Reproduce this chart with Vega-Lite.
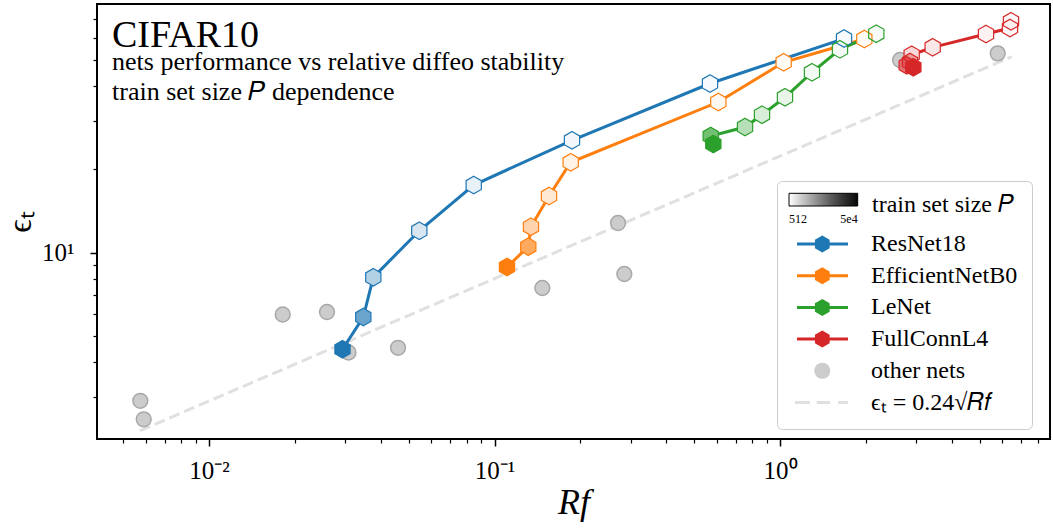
{
  "$schema": "https://vega.github.io/schema/vega-lite/v6.json",
  "width": 953,
  "height": 435,
  "autosize": {"type": "none"},
  "padding": {"left": 97, "top": 4, "right": 3, "bottom": 90},
  "background": "white",
  "config": {
    "view": {"stroke": "black", "strokeWidth": 2},
    "font": "Liberation Serif",
    "axis": {"domain": false, "grid": false, "tickColor": "black", "tickWidth": 1.5, "labelColor": "black", "labelFont": "Liberation Serif", "labelFontSize": 25, "titleFont": "Liberation Serif", "titleFontWeight": "normal", "titleColor": "black"},
    "legend": {"labelFont": "Liberation Serif", "titleFont": "Liberation Serif", "labelColor": "black", "titleColor": "black", "titleFontWeight": "normal"}
  },
  "title": {
    "text": "CIFAR10",
    "subtitle": ["nets performance vs relative diffeo stability", "train set size 𝑃 dependence"],
    "anchor": "start",
    "frame": "group",
    "orient": "top",
    "offset": -101,
    "dx": 15,
    "font": "Liberation Serif",
    "fontSize": 38,
    "fontWeight": "normal",
    "color": "black",
    "subtitleFont": "Liberation Serif",
    "subtitleFontSize": 26,
    "subtitleColor": "black",
    "subtitleLineHeight": 30,
    "subtitlePadding": -6
  },
  "datasets": {
    "fit": [
      {"Rf": 0.005731, "eps": 2.262},
      {"Rf": 6.481, "eps": 51.22}
    ],
    "others": [
      {"Rf": 0.005746, "eps": 2.902},
      {"Rf": 0.005906, "eps": 2.487},
      {"Rf": 0.01812, "eps": 5.962},
      {"Rf": 0.0259, "eps": 6.087},
      {"Rf": 0.0308, "eps": 4.342},
      {"Rf": 0.04592, "eps": 4.515},
      {"Rf": 0.1471, "eps": 7.436},
      {"Rf": 0.2708, "eps": 12.79},
      {"Rf": 0.2849, "eps": 8.357},
      {"Rf": 2.633, "eps": 49.84},
      {"Rf": 5.788, "eps": 52.68}
    ],
    "nets": [
      {"net": "ResNet18", "P": 50000, "Rf": 0.02935, "eps": 4.46},
      {"net": "ResNet18", "P": 32768, "Rf": 0.03471, "eps": 5.838},
      {"net": "ResNet18", "P": 16384, "Rf": 0.03762, "eps": 8.13},
      {"net": "ResNet18", "P": 8192, "Rf": 0.05452, "eps": 11.99},
      {"net": "ResNet18", "P": 4096, "Rf": 0.08456, "eps": 17.56},
      {"net": "ResNet18", "P": 2048, "Rf": 0.1868, "eps": 25.5},
      {"net": "ResNet18", "P": 1024, "Rf": 0.5685, "eps": 40.96},
      {"net": "ResNet18", "P": 512, "Rf": 1.676, "eps": 59.6},
      {"net": "EfficientNetB0", "P": 50000, "Rf": 0.1106, "eps": 8.86},
      {"net": "EfficientNetB0", "P": 32768, "Rf": 0.1313, "eps": 10.5},
      {"net": "EfficientNetB0", "P": 16384, "Rf": 0.1342, "eps": 12.4},
      {"net": "EfficientNetB0", "P": 8192, "Rf": 0.1552, "eps": 16.02},
      {"net": "EfficientNetB0", "P": 4096, "Rf": 0.1849, "eps": 21.23},
      {"net": "EfficientNetB0", "P": 2048, "Rf": 0.608, "eps": 35.1},
      {"net": "EfficientNetB0", "P": 1024, "Rf": 1.03, "eps": 48.88},
      {"net": "EfficientNetB0", "P": 512, "Rf": 1.974, "eps": 59.37},
      {"net": "LeNet", "P": 50000, "Rf": 0.584, "eps": 24.72},
      {"net": "LeNet", "P": 32768, "Rf": 0.5718, "eps": 26.43},
      {"net": "LeNet", "P": 16384, "Rf": 0.7542, "eps": 28.49},
      {"net": "LeNet", "P": 8192, "Rf": 0.8649, "eps": 31.57},
      {"net": "LeNet", "P": 4096, "Rf": 1.041, "eps": 36.5},
      {"net": "LeNet", "P": 2048, "Rf": 1.294, "eps": 44.97},
      {"net": "LeNet", "P": 1024, "Rf": 1.622, "eps": 54.47},
      {"net": "LeNet", "P": 512, "Rf": 2.174, "eps": 62.06},
      {"net": "FullConnL4", "P": 50000, "Rf": 2.931, "eps": 46.88},
      {"net": "FullConnL4", "P": 32768, "Rf": 2.778, "eps": 47.68},
      {"net": "FullConnL4", "P": 16384, "Rf": 2.853, "eps": 49.0},
      {"net": "FullConnL4", "P": 8192, "Rf": 2.892, "eps": 52.08},
      {"net": "FullConnL4", "P": 4096, "Rf": 3.426, "eps": 55.39},
      {"net": "FullConnL4", "P": 2048, "Rf": 5.267, "eps": 61.91},
      {"net": "FullConnL4", "P": 1024, "Rf": 6.391, "eps": 65.07},
      {"net": "FullConnL4", "P": 512, "Rf": 6.443, "eps": 68.81}
    ],
    "legendEntries": [
      {"series": "ResNet18"},
      {"series": "EfficientNetB0"},
      {"series": "LeNet"},
      {"series": "FullConnL4"},
      {"series": "other nets"},
      {"series": "ϵₜ = 0.24√𝑅𝑓"}
    ]
  },
  "layer": [
    {
      "data": {"name": "legendEntries"},
      "transform": [{"filter": "false"}],
      "mark": {"type": "point", "filled": true, "opacity": 1},
      "encoding": {
        "fill": {
          "field": "series", "type": "nominal",
          "scale": {
            "domain": ["ResNet18", "EfficientNetB0", "LeNet", "FullConnL4", "other nets", "ϵₜ = 0.24√𝑅𝑓"],
            "range": ["#1f77b4", "#ff7f0e", "#2ca02c", "#d62728", "#cccccc", "#e0e0e0"]
          },
          "legend": {
            "orient": "none", "legendX": 680, "legendY": 177,
            "title": " ", "titleFontSize": 20, "titlePadding": 17,
            "padding": 14, "symbolSize": 576, "symbolStrokeWidth": 0,
            "labelFontSize": 24, "labelOffset": 56, "rowPadding": 7.7,
            "strokeColor": "#cccccc", "cornerRadius": 5, "labelLimit": 400
          }
        },
        "shape": {
          "field": "series", "type": "nominal",
          "scale": {
            "domain": ["ResNet18", "EfficientNetB0", "LeNet", "FullConnL4", "other nets", "ϵₜ = 0.24√𝑅𝑓"],
            "range": [
              "M-0.5,-0.125H3.75V0.125H-0.5ZM1.608,-0.708L2.221,-0.354L2.221,0.354L1.608,0.708L0.995,0.354L0.995,-0.354Z",
              "M-0.5,-0.125H3.75V0.125H-0.5ZM1.608,-0.708L2.221,-0.354L2.221,0.354L1.608,0.708L0.995,0.354L0.995,-0.354Z",
              "M-0.5,-0.125H3.75V0.125H-0.5ZM1.608,-0.708L2.221,-0.354L2.221,0.354L1.608,0.708L0.995,0.354L0.995,-0.354Z",
              "M-0.5,-0.125H3.75V0.125H-0.5ZM1.608,-0.708L2.221,-0.354L2.221,0.354L1.608,0.708L0.995,0.354L0.995,-0.354Z",
              "M0.941,0A0.667,0.667,0,1,1,2.275,0A0.667,0.667,0,1,1,0.941,0Z",
              "M-0.667,-0.125H0.583V0.125H-0.667ZM1.142,-0.125H2.25V0.125H1.142ZM2.917,-0.125H3.75V0.125H2.917Z"
            ]
          },
          "legend": {
            "orient": "none", "legendX": 680, "legendY": 177,
            "title": " ", "titleFontSize": 20, "titlePadding": 17,
            "padding": 14, "symbolSize": 576, "symbolStrokeWidth": 0,
            "labelFontSize": 24, "labelOffset": 56, "rowPadding": 7.7,
            "strokeColor": "#cccccc", "cornerRadius": 5, "labelLimit": 400
          }
        }
      }
    },
    {
      "data": {"name": "nets"},
      "transform": [{"filter": "false"}],
      "mark": {"type": "point", "filled": true, "opacity": 1},
      "encoding": {
        "color": {
          "field": "P", "type": "quantitative",
          "scale": {"type": "log", "domain": [512, 50000], "range": ["#ffffff", "#000000"]},
          "legend": {
            "orient": "none", "legendX": 692, "legendY": 189.3,
            "direction": "horizontal", "gradientLength": 68.7, "gradientThickness": 12.7,
            "gradientStrokeColor": "black", "gradientStrokeWidth": 1,
            "values": [512, 50000],
            "labelExpr": "datum.value < 1000 ? '512' : '5e4'",
            "labelFontSize": 12, "labelAlign": "center", "labelOffset": 8,
            "title": "train set size 𝑃", "titleOrient": "right", "titleFontSize": 24,
            "titlePadding": 14, "titleAnchor": "start", "titleBaseline": "top", "titleAngle": 0
          }
        }
      }
    },
    {
      "data": {"name": "fit"},
      "mark": {"type": "line", "stroke": "#e0e0e0", "strokeWidth": 3, "strokeDash": [11, 5]},
      "encoding": {
        "x": {
          "field": "Rf", "type": "quantitative",
          "scale": {"type": "log", "domain": [0.004052, 8.825], "nice": false},
          "axis": {
            "orient": "bottom", "values": [0.01, 0.1, 1],
            "labelExpr": "datum.value < 0.05 ? '10⁻²' : datum.value < 0.5 ? '10⁻¹' : '10⁰'",
            "tickSize": 7, "labelPadding": 12, "labelFlush": false,
            "title": "Rf", "titleFontSize": 36, "titleFontStyle": "italic", "titlePadding": 2
          }
        },
        "y": {
          "field": "eps", "type": "quantitative",
          "scale": {"type": "log", "domain": [2.11, 79.52], "nice": false},
          "axis": {
            "orient": "left", "values": [10], "labelExpr": "'10¹'",
            "tickSize": 7, "labelPadding": 16, "labelFlush": false,
            "title": "ϵₜ", "titleFontSize": 33, "titlePadding": 4
          }
        }
      }
    },
    {
      "data": {"name": "others"},
      "mark": {"type": "point", "shape": "circle", "filled": true, "size": 220, "fill": "#cccccc", "stroke": "#a8a8a8", "strokeWidth": 1.5, "opacity": 1},
      "encoding": {
        "x": {
          "field": "Rf", "type": "quantitative",
          "scale": {"type": "log", "domain": [0.004052, 8.825], "nice": false},
          "axis": {
            "orient": "bottom",
            "values": [0.005, 0.006, 0.007, 0.008, 0.009, 0.02, 0.03, 0.04, 0.05, 0.06, 0.07, 0.08, 0.09, 0.2, 0.3, 0.4, 0.5, 0.6, 0.7, 0.8, 0.9, 2, 3, 4, 5, 6, 7, 8],
            "labels": false, "tickSize": 4, "tickWidth": 1.2, "title": null
          }
        },
        "y": {
          "field": "eps", "type": "quantitative",
          "scale": {"type": "log", "domain": [2.11, 79.52], "nice": false},
          "axis": {
            "orient": "left",
            "values": [3, 4, 5, 6, 7, 8, 9, 20, 30, 40, 50, 60, 70],
            "labels": false, "tickSize": 4, "tickWidth": 1.2, "title": null
          }
        }
      }
    },
    {
      "data": {"name": "nets"},
      "mark": {"type": "line", "strokeWidth": 3},
      "encoding": {
        "x": {"field": "Rf", "type": "quantitative", "scale": {"type": "log", "domain": [0.004052, 8.825], "nice": false}, "axis": null},
        "y": {"field": "eps", "type": "quantitative", "scale": {"type": "log", "domain": [2.11, 79.52], "nice": false}, "axis": null},
        "stroke": {
          "field": "net", "type": "nominal",
          "scale": {"domain": ["ResNet18", "EfficientNetB0", "LeNet", "FullConnL4"], "range": ["#1f77b4", "#ff7f0e", "#2ca02c", "#d62728"]},
          "legend": null
        },
        "order": {"field": "P", "type": "quantitative"}
      }
    },
    {
      "data": {"name": "nets"},
      "mark": {"type": "point", "shape": "M0,-1L0.866,-0.5L0.866,0.5L0,1L-0.866,0.5L-0.866,-0.5Z", "size": 310, "filled": true, "fill": "white", "strokeWidth": 0, "opacity": 1},
      "encoding": {
        "x": {"field": "Rf", "type": "quantitative", "scale": {"type": "log", "domain": [0.004052, 8.825], "nice": false}, "axis": null},
        "y": {"field": "eps", "type": "quantitative", "scale": {"type": "log", "domain": [2.11, 79.52], "nice": false}, "axis": null}
      }
    },
    {
      "data": {"name": "nets"},
      "mark": {"type": "point", "shape": "M0,-1L0.866,-0.5L0.866,0.5L0,1L-0.866,0.5L-0.866,-0.5Z", "size": 310, "filled": true, "strokeWidth": 1.2, "opacity": 1},
      "encoding": {
        "x": {"field": "Rf", "type": "quantitative", "scale": {"type": "log", "domain": [0.004052, 8.825], "nice": false}, "axis": null},
        "y": {"field": "eps", "type": "quantitative", "scale": {"type": "log", "domain": [2.11, 79.52], "nice": false}, "axis": null},
        "fill": {
          "field": "net", "type": "nominal",
          "scale": {"domain": ["ResNet18", "EfficientNetB0", "LeNet", "FullConnL4"], "range": ["#1f77b4", "#ff7f0e", "#2ca02c", "#d62728"]},
          "legend": null
        },
        "stroke": {
          "field": "net", "type": "nominal",
          "scale": {"domain": ["ResNet18", "EfficientNetB0", "LeNet", "FullConnL4"], "range": ["#1f77b4", "#ff7f0e", "#2ca02c", "#d62728"]},
          "legend": null
        },
        "fillOpacity": {
          "field": "P", "type": "quantitative",
          "scale": {"type": "linear", "domain": [512, 50000], "range": [0.03, 1]},
          "legend": null
        }
      }
    }
  ],
  "resolve": {
    "scale": {"fill": "independent", "shape": "independent", "color": "independent"},
    "axis": {"x": "independent", "y": "independent"},
    "legend": {"fill": "independent", "shape": "independent", "color": "independent"}
  }
}
